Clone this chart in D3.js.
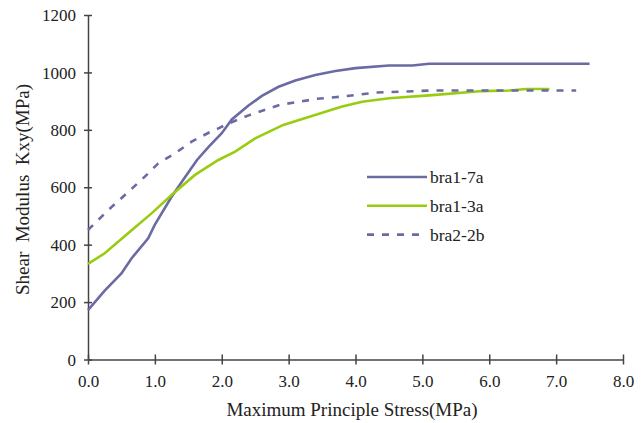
<!DOCTYPE html>
<html>
<head>
<meta charset="utf-8">
<script src="https://cdn.jsdelivr.net/npm/d3@7"></script>
<style>
  body { margin: 0; background: #fff; }
  svg text { font-family: "Liberation Serif", "Times New Roman", Times, serif; fill: #222; }
</style>
</head>
<body>
<svg id="chart" width="644" height="423"></svg>
<script>
// values
var seriesNames = ["bra1-7a", "bra1-3a", "bra2-2b"];

var bra17a = [
  [0, 172], [0.25, 240], [0.5, 300], [0.65, 352], [0.9, 422], [1.0, 470], [1.25, 567],
  [1.45, 635], [1.63, 695], [1.8, 740], [2.0, 788], [2.15, 836], [2.4, 885], [2.6, 918],
  [2.85, 950], [3.1, 972], [3.4, 991], [3.7, 1005], [4.0, 1015], [4.5, 1024],
  [4.85, 1024], [5.1, 1030], [6.0, 1030], [7.0, 1030], [7.5, 1030]
];
var bra13a = [
  [0, 333], [0.25, 370], [0.6, 440], [0.95, 509], [1.25, 573], [1.6, 643], [1.95, 695],
  [2.2, 724], [2.5, 770], [2.92, 817], [3.3, 845], [3.8, 881], [4.1, 898], [4.5, 910],
  [5.15, 921], [5.9, 935], [6.3, 937], [6.55, 942], [6.9, 942]
];
var bra22b = [
  [0, 451], [0.2, 497], [0.37, 535], [0.58, 579], [0.85, 637], [1.05, 683], [1.3, 718],
  [1.55, 759], [1.83, 793], [1.95, 805], [2.1, 822], [2.42, 852], [2.87, 887], [3.42, 908],
  [3.81, 916], [4.31, 930], [5.15, 937], [6.0, 937], [7.3, 937]
];

var xTicks = [0, 1, 2, 3, 4, 5, 6, 7, 8];
var yTicks = [0, 200, 400, 600, 800, 1000, 1200];

var purple = "#6B6BA3";
var green = "#99CC11";

var svg = d3.select("#chart");

var x = d3.scaleLinear().domain([0, 8]).range([88, 623]);
var y = d3.scaleLinear().domain([0, 1200]).range([359.5, 15]);

// axes
var xAxis = d3.axisBottom(x).tickValues(xTicks).tickFormat(d3.format(".1f"))
  .tickSizeInner(5).tickSizeOuter(0);
var yAxis = d3.axisLeft(y).tickValues(yTicks).tickFormat(d3.format("d"))
  .tickSizeInner(4).tickSizeOuter(0);

var gx = svg.append("g").attr("transform", "translate(0," + y(0) + ")").call(xAxis);
var gy = svg.append("g").attr("transform", "translate(" + x(0) + ",0)").call(yAxis);

[gx, gy].forEach(function(g) {
  g.attr("font-family", null).attr("font-size", null);
  g.select(".domain").attr("stroke", "#444").attr("stroke-width", 1.5);
  g.selectAll(".tick line").attr("stroke", "#444").attr("stroke-width", 1.5);
  g.selectAll(".tick text").style("font-size", "17px").attr("fill", "#222");
});
// ticks cross the axis line
gx.selectAll(".tick line").attr("y1", -5).attr("y2", 5);
gy.selectAll(".tick line").attr("x1", -4).attr("x2", 4);
gx.selectAll(".tick text").attr("y", 27.5).attr("dy", 0);
gy.selectAll(".tick text").attr("x", -12).attr("dy", "0.33em");

// axis titles
svg.append("text")
  .attr("x", 352).attr("y", 416)
  .attr("text-anchor", "middle")
  .style("font-size", "19px")
  .text("Maximum Principle Stress(MPa)");

svg.append("text")
  .attr("transform", "translate(28.5,189.5) rotate(-90)")
  .attr("text-anchor", "middle")
  .style("font-size", "19px")
  .style("white-space", "pre")
  .text("Shear  Modulus  Kxy(MPa)");

// lines
var line = d3.line().x(function(d) { return x(d[0]); }).y(function(d) { return y(d[1]); });

var series = [
  { name: seriesNames[0], data: bra17a, color: purple, dash: null },
  { name: seriesNames[1], data: bra13a, color: green, dash: null },
  { name: seriesNames[2], data: bra22b, color: purple, dash: "7,8" }
];

series.forEach(function(s) {
  svg.append("path")
    .datum(s.data)
    .attr("d", line)
    .attr("fill", "none")
    .attr("stroke", s.color)
    .attr("stroke-width", 2.6)
    .attr("stroke-dasharray", s.dash);
});

// legend
var legend = svg.append("g").attr("transform", "translate(367,177)");
series.forEach(function(s, i) {
  var row = legend.append("g").attr("transform", "translate(0," + (i * 28.8) + ")");
  row.append("line")
    .attr("x1", 0).attr("x2", 60).attr("y1", 0).attr("y2", 0)
    .attr("stroke", s.color).attr("stroke-width", 2.6)
    .attr("stroke-dasharray", s.dash);
  row.append("text")
    .attr("x", 63).attr("y", 6)
    .style("font-size", "17.5px")
    .text(s.name);
});
</script>
</body>
</html>
